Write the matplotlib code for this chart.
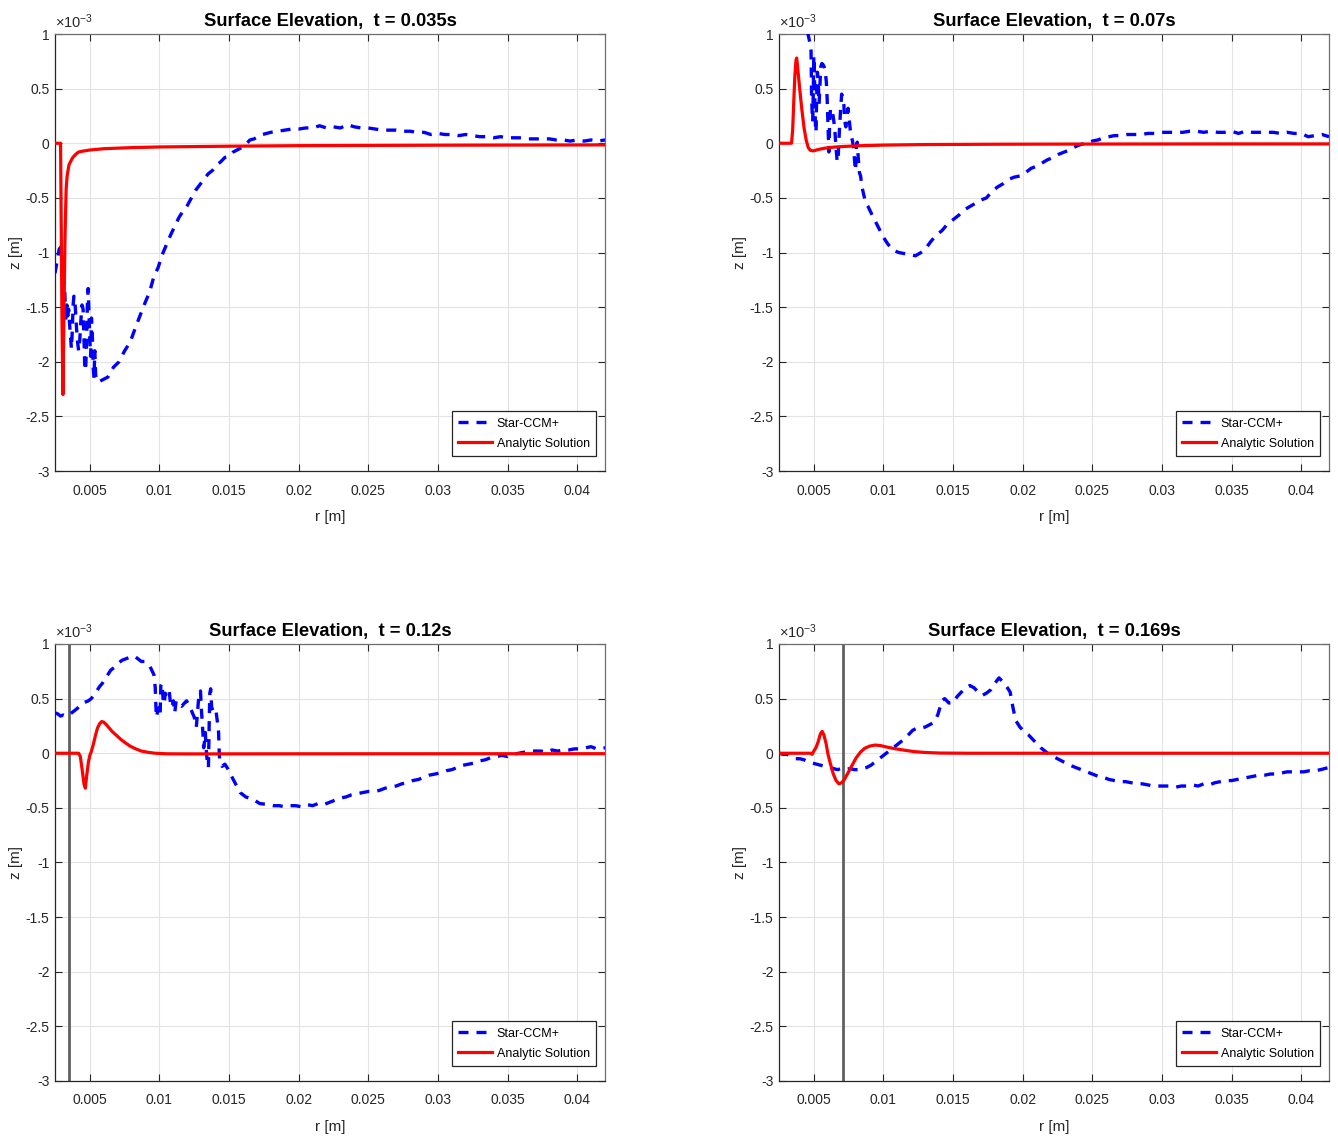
import matplotlib
matplotlib.use("Agg")
import matplotlib.pyplot as plt
from matplotlib.ticker import FuncFormatter

# ---------------- data (r in m, z in units of 1e-3 m) ----------------
titles = ["Surface Elevation,  t = 0.035s", "Surface Elevation,  t = 0.07s",
          "Surface Elevation,  t = 0.12s", "Surface Elevation,  t = 0.169s"]
legend_labels = ["Star-CCM+", "Analytic Solution"]
x_ticks = [0.005, 0.01, 0.015, 0.02, 0.025, 0.03, 0.035, 0.04]
y_ticks = [1, 0.5, 0, -0.5, -1, -1.5, -2, -2.5, -3]

# t = 0.035 s
r_star_1 = [0.00250, 0.00265, 0.00280, 0.00292, 0.00302, 0.00312, 0.00320, 0.00328, 0.00335, 0.00342,
            0.00348, 0.00355, 0.00362, 0.00368, 0.00374, 0.00380, 0.00386, 0.00392, 0.00398, 0.00405,
            0.00412, 0.00420, 0.00428, 0.00436, 0.00444, 0.00452, 0.00458, 0.00464, 0.00470, 0.00476,
            0.00482, 0.00488, 0.00494, 0.00500, 0.00506, 0.00512, 0.00518, 0.00524, 0.00530, 0.00536,
            0.00542, 0.00550, 0.00570, 0.00600, 0.00630, 0.00670, 0.00710, 0.00750, 0.00790, 0.00830,
            0.00860, 0.00900, 0.00930, 0.00960, 0.00990, 0.01020, 0.01050, 0.01080, 0.01110, 0.01140,
            0.01170, 0.01200, 0.01230, 0.01260, 0.01290, 0.01320, 0.01350, 0.01380, 0.01410, 0.01440,
            0.01470, 0.01500, 0.01530, 0.01560, 0.01590, 0.01620, 0.01650, 0.01680, 0.01710, 0.01740,
            0.01770, 0.01800, 0.01850, 0.01900, 0.01950, 0.02000, 0.02050, 0.02100, 0.02150, 0.02200,
            0.02250, 0.02300, 0.02350, 0.02400, 0.02450, 0.02500, 0.02550, 0.02600, 0.02650, 0.02700,
            0.02750, 0.02800, 0.02850, 0.02900, 0.02950, 0.03000, 0.03050, 0.03100, 0.03150, 0.03200,
            0.03250, 0.03300, 0.03350, 0.03400, 0.03450, 0.03500, 0.03550, 0.03600, 0.03650, 0.03700,
            0.03750, 0.03800, 0.03850, 0.03900, 0.03950, 0.04000, 0.04050, 0.04100, 0.04150, 0.04200]
z_star_1 = [-1.19, -1.08, -0.97, -0.95, -1.02, -1.10, -1.35, -1.62, -1.48, -1.58,
            -1.52, -1.66, -1.78, -1.88, -1.72, -1.48, -1.40, -1.42, -1.55, -1.70,
            -1.82, -1.90, -1.80, -1.62, -1.48, -1.52, -1.78, -2.05, -2.08, -1.85,
            -1.50, -1.33, -1.55, -1.80, -1.95, -1.60, -1.75, -2.05, -2.15, -1.90,
            -2.12, -2.18, -2.18, -2.16, -2.14, -2.05, -2.00, -1.90, -1.82, -1.68,
            -1.58, -1.45, -1.36, -1.22, -1.14, -1.02, -0.93, -0.84, -0.76, -0.68,
            -0.62, -0.57, -0.50, -0.43, -0.38, -0.33, -0.28, -0.25, -0.20, -0.17,
            -0.13, -0.12, -0.08, -0.06, -0.04, -0.01, 0.03, 0.04, 0.06, 0.08,
            0.09, 0.10, 0.11, 0.12, 0.13, 0.13, 0.14, 0.14, 0.16, 0.14,
            0.15, 0.14, 0.17, 0.15, 0.14, 0.14, 0.13, 0.12, 0.12, 0.12,
            0.11, 0.11, 0.10, 0.10, 0.08, 0.09, 0.08, 0.08, 0.07, 0.08,
            0.07, 0.06, 0.06, 0.05, 0.06, 0.05, 0.05, 0.05, 0.04, 0.04,
            0.04, 0.04, 0.03, 0.03, 0.02, 0.03, 0.02, 0.03, 0.02, 0.03]
r_ana_1 = [0.00250, 0.00290, 0.00300, 0.00307, 0.00315, 0.00322, 0.00330, 0.00337, 0.00350, 0.00365,
           0.00378, 0.00400, 0.00420, 0.00450, 0.00500, 0.00600, 0.00800, 0.01000, 0.01500, 0.02000,
           0.03000, 0.04200]
z_ana_1 = [0.0, 0.0, -1.60, -2.30, -1.50, -0.85, -0.42, -0.30, -0.20, -0.16,
           -0.13, -0.10, -0.08, -0.072, -0.062, -0.050, -0.040, -0.034, -0.027, -0.022,
           -0.018, -0.015]

# t = 0.07 s
r_star_2 = [0.00455, 0.00470, 0.00480, 0.00484, 0.00488, 0.00492, 0.00496, 0.00500, 0.00504, 0.00508,
            0.00512, 0.00516, 0.00520, 0.00526, 0.00532, 0.00538, 0.00544, 0.00550, 0.00558, 0.00566,
            0.00574, 0.00582, 0.00590, 0.00596, 0.00600, 0.00604, 0.00608, 0.00614, 0.00620, 0.00628,
            0.00636, 0.00644, 0.00652, 0.00660, 0.00668, 0.00676, 0.00684, 0.00692, 0.00700, 0.00708,
            0.00716, 0.00722, 0.00730, 0.00738, 0.00746, 0.00754, 0.00762, 0.00770, 0.00778, 0.00786,
            0.00794, 0.00800, 0.00806, 0.00812, 0.00820, 0.00828, 0.00836, 0.00846, 0.00860, 0.00875,
            0.00890, 0.00920, 0.00960, 0.01000, 0.01030, 0.01070, 0.01110, 0.01150, 0.01190, 0.01230,
            0.01270, 0.01300, 0.01340, 0.01380, 0.01420, 0.01460, 0.01500, 0.01540, 0.01580, 0.01620,
            0.01660, 0.01700, 0.01740, 0.01780, 0.01820, 0.01860, 0.01900, 0.01940, 0.01980, 0.02020,
            0.02060, 0.02100, 0.02140, 0.02180, 0.02220, 0.02260, 0.02300, 0.02340, 0.02380, 0.02420,
            0.02460, 0.02500, 0.02540, 0.02580, 0.02620, 0.02660, 0.02700, 0.02750, 0.02800, 0.02850,
            0.02900, 0.02950, 0.03000, 0.03050, 0.03100, 0.03150, 0.03200, 0.03250, 0.03300, 0.03350,
            0.03400, 0.03450, 0.03500, 0.03550, 0.03600, 0.03650, 0.03700, 0.03750, 0.03800, 0.03850,
            0.03900, 0.03950, 0.04000, 0.04050, 0.04100, 0.04150, 0.04200]
z_star_2 = [1.02, 0.93, 0.85, 0.45, 0.28, 0.20, 0.45, 0.80, 0.68, 0.35,
            0.15, 0.10, 0.40, 0.65, 0.55, 0.36, 0.52, 0.70, 0.73, 0.72,
            0.70, 0.66, 0.56, 0.40, 0.24, 0.05, -0.08, 0.20, 0.32, 0.30,
            0.27, 0.20, 0.10, -0.05, -0.17, -0.10, 0.12, 0.30, 0.45, 0.40,
            0.35, 0.20, 0.15, 0.24, 0.32, 0.22, 0.12, 0.06, 0.02, -0.05,
            -0.18, -0.25, -0.02, 0.01, -0.15, -0.27, -0.30, -0.40, -0.48, -0.55,
            -0.58, -0.66, -0.76, -0.86, -0.92, -0.98, -1.00, -1.01, -1.02, -1.03,
            -1.00, -0.97, -0.90, -0.84, -0.80, -0.74, -0.70, -0.66, -0.61, -0.58,
            -0.55, -0.52, -0.50, -0.44, -0.40, -0.37, -0.33, -0.31, -0.30, -0.27,
            -0.23, -0.21, -0.18, -0.15, -0.13, -0.10, -0.08, -0.06, -0.03, -0.01,
            0.00, 0.02, 0.03, 0.05, 0.06, 0.07, 0.07, 0.08, 0.08, 0.08,
            0.09, 0.09, 0.10, 0.10, 0.10, 0.10, 0.11, 0.11, 0.10, 0.11,
            0.10, 0.10, 0.11, 0.09, 0.11, 0.10, 0.10, 0.10, 0.10, 0.09,
            0.10, 0.09, 0.09, 0.06, 0.07, 0.08, 0.06]
r_ana_2 = [0.00250, 0.00340, 0.00348, 0.00356, 0.00364, 0.00372, 0.00377, 0.00385, 0.00400, 0.00415,
           0.00430, 0.00445, 0.00460, 0.00475, 0.00495, 0.00510, 0.00540, 0.00580, 0.00640, 0.00720,
           0.00820, 0.01000, 0.01300, 0.01800, 0.02500, 0.03500, 0.04200]
z_ana_2 = [0.0, 0.0, 0.12, 0.38, 0.62, 0.76, 0.78, 0.68, 0.48, 0.30,
           0.14, 0.03, -0.04, -0.065, -0.07, -0.065, -0.055, -0.045, -0.036, -0.029,
           -0.023, -0.017, -0.012, -0.009, -0.007, -0.006, -0.006]

# t = 0.12 s
r_star_3 = [0.00250, 0.00270, 0.00290, 0.00310, 0.00330, 0.00350, 0.00370, 0.00390, 0.00410, 0.00430,
            0.00450, 0.00470, 0.00490, 0.00510, 0.00530, 0.00550, 0.00570, 0.00590, 0.00610, 0.00630,
            0.00650, 0.00670, 0.00690, 0.00710, 0.00730, 0.00750, 0.00770, 0.00790, 0.00810, 0.00830,
            0.00850, 0.00870, 0.00894, 0.00930, 0.00960, 0.00970, 0.00974, 0.00978, 0.00990, 0.01000,
            0.01005, 0.01010, 0.01018, 0.01026, 0.01034, 0.01042, 0.01050, 0.01070, 0.01080, 0.01090,
            0.01100, 0.01110, 0.01120, 0.01140, 0.01160, 0.01180, 0.01195, 0.01210, 0.01230, 0.01250,
            0.01265, 0.01280, 0.01295, 0.01300, 0.01305, 0.01312, 0.01318, 0.01325, 0.01330, 0.01335,
            0.01345, 0.01352, 0.01358, 0.01362, 0.01368, 0.01375, 0.01385, 0.01395, 0.01405, 0.01415,
            0.01425, 0.01428, 0.01432, 0.01450, 0.01470, 0.01490, 0.01530, 0.01580, 0.01620, 0.01670,
            0.01720, 0.01780, 0.01820, 0.01860, 0.01900, 0.01940, 0.01980, 0.02020, 0.02060, 0.02100,
            0.02140, 0.02180, 0.02220, 0.02260, 0.02300, 0.02340, 0.02380, 0.02420, 0.02460, 0.02500,
            0.02540, 0.02580, 0.02620, 0.02660, 0.02700, 0.02740, 0.02780, 0.02820, 0.02860, 0.02900,
            0.02940, 0.02980, 0.03020, 0.03060, 0.03100, 0.03140, 0.03180, 0.03220, 0.03260, 0.03300,
            0.03340, 0.03380, 0.03420, 0.03460, 0.03500, 0.03540, 0.03580, 0.03620, 0.03660, 0.03700,
            0.03740, 0.03780, 0.03820, 0.03860, 0.03900, 0.03940, 0.03980, 0.04020, 0.04060, 0.04100,
            0.04140, 0.04200]
z_star_3 = [0.37, 0.36, 0.34, 0.35, 0.34, 0.35, 0.37, 0.39, 0.41, 0.44,
            0.46, 0.47, 0.48, 0.50, 0.53, 0.57, 0.61, 0.64, 0.68, 0.72,
            0.76, 0.78, 0.80, 0.83, 0.85, 0.86, 0.87, 0.88, 0.89, 0.88,
            0.86, 0.84, 0.84, 0.80, 0.72, 0.60, 0.45, 0.33, 0.40, 0.42,
            0.35, 0.62, 0.64, 0.50, 0.45, 0.55, 0.52, 0.57, 0.45, 0.42,
            0.48, 0.37, 0.48, 0.45, 0.43, 0.46, 0.48, 0.44, 0.39, 0.33,
            0.24, 0.48, 0.57, 0.43, 0.33, 0.19, 0.05, 0.12, 0.19, 0.05,
            -0.10, -0.13, 0.32, 0.55, 0.59, 0.42, 0.39, 0.38, 0.40, 0.30,
            0.19, 0.05, -0.05, -0.12, -0.10, -0.14, -0.24, -0.36, -0.40, -0.42,
            -0.46, -0.47, -0.48, -0.48, -0.49, -0.48, -0.48, -0.49, -0.47, -0.48,
            -0.46, -0.47, -0.45, -0.43, -0.41, -0.40, -0.38, -0.37, -0.36, -0.35,
            -0.35, -0.34, -0.32, -0.31, -0.30, -0.28, -0.27, -0.25, -0.24, -0.22,
            -0.20, -0.19, -0.18, -0.16, -0.15, -0.13, -0.11, -0.10, -0.09, -0.07,
            -0.06, -0.04, -0.03, -0.02, -0.03, -0.01, 0.00, 0.01, 0.02, 0.02,
            0.02, 0.01, 0.03, 0.02, 0.03, 0.03, 0.04, 0.04, 0.05, 0.06,
            0.04, 0.05]
r_ana_3 = [0.00250, 0.00420, 0.00432, 0.00445, 0.00458, 0.00468, 0.00478, 0.00490, 0.00500, 0.00512,
           0.00525, 0.00540, 0.00555, 0.00570, 0.00585, 0.00600, 0.00620, 0.00640, 0.00660, 0.00690,
           0.00720, 0.00750, 0.00790, 0.00830, 0.00870, 0.00920, 0.00970, 0.01050, 0.01200, 0.02000,
           0.04200]
z_ana_3 = [0.0, 0.0, -0.03, -0.15, -0.28, -0.32, -0.20, -0.08, -0.02, 0.02,
           0.08, 0.16, 0.23, 0.27, 0.29, 0.285, 0.26, 0.23, 0.20, 0.165,
           0.13, 0.10, 0.065, 0.04, 0.02, 0.008, 0.0, -0.005, -0.006, -0.005,
           -0.004]
r_mark_3 = 0.0035

# t = 0.169 s
r_star_4 = [0.00250, 0.00280, 0.00310, 0.00340, 0.00370, 0.00400, 0.00430, 0.00460, 0.00490, 0.00520,
            0.00550, 0.00580, 0.00610, 0.00640, 0.00670, 0.00700, 0.00730, 0.00760, 0.00790, 0.00820,
            0.00850, 0.00880, 0.00910, 0.00940, 0.00970, 0.01000, 0.01030, 0.01060, 0.01090, 0.01120,
            0.01150, 0.01180, 0.01210, 0.01240, 0.01270, 0.01300, 0.01330, 0.01360, 0.01390, 0.01420,
            0.01440, 0.01470, 0.01500, 0.01530, 0.01560, 0.01590, 0.01620, 0.01650, 0.01680, 0.01710,
            0.01740, 0.01770, 0.01800, 0.01830, 0.01860, 0.01890, 0.01910, 0.01930, 0.01950, 0.01980,
            0.02010, 0.02040, 0.02070, 0.02100, 0.02130, 0.02160, 0.02190, 0.02220, 0.02250, 0.02280,
            0.02310, 0.02340, 0.02380, 0.02420, 0.02460, 0.02500, 0.02540, 0.02580, 0.02620, 0.02660,
            0.02700, 0.02740, 0.02780, 0.02820, 0.02860, 0.02900, 0.02940, 0.02980, 0.03020, 0.03060,
            0.03100, 0.03140, 0.03180, 0.03220, 0.03260, 0.03300, 0.03340, 0.03380, 0.03420, 0.03460,
            0.03500, 0.03540, 0.03580, 0.03620, 0.03660, 0.03700, 0.03740, 0.03780, 0.03820, 0.03860,
            0.03900, 0.03940, 0.03980, 0.04020, 0.04060, 0.04100, 0.04140, 0.04200]
z_star_4 = [0.00, -0.01, -0.01, -0.03, -0.05, -0.05, -0.06, -0.08, -0.09, -0.10,
            -0.11, -0.12, -0.13, -0.14, -0.15, -0.14, -0.15, -0.14, -0.15, -0.15,
            -0.14, -0.13, -0.11, -0.08, -0.05, -0.02, 0.01, 0.04, 0.07, 0.10,
            0.13, 0.17, 0.21, 0.23, 0.23, 0.24, 0.26, 0.28, 0.35, 0.48,
            0.50, 0.46, 0.46, 0.52, 0.56, 0.60, 0.62, 0.60, 0.56, 0.53,
            0.55, 0.58, 0.64, 0.69, 0.65, 0.60, 0.56, 0.42, 0.30, 0.24,
            0.20, 0.17, 0.13, 0.09, 0.05, 0.02, -0.01, -0.03, -0.05, -0.07,
            -0.09, -0.11, -0.13, -0.15, -0.17, -0.19, -0.21, -0.22, -0.24, -0.25,
            -0.26, -0.26, -0.27, -0.28, -0.28, -0.29, -0.30, -0.30, -0.30, -0.30,
            -0.31, -0.30, -0.30, -0.29, -0.30, -0.28, -0.29, -0.27, -0.26, -0.25,
            -0.25, -0.24, -0.23, -0.22, -0.21, -0.20, -0.20, -0.19, -0.19, -0.18,
            -0.17, -0.17, -0.17, -0.17, -0.16, -0.16, -0.15, -0.13]
r_ana_4 = [0.00250, 0.00480, 0.00488, 0.00500, 0.00515, 0.00530, 0.00548, 0.00560, 0.00572, 0.00588,
           0.00602, 0.00620, 0.00640, 0.00660, 0.00680, 0.00700, 0.00720, 0.00745, 0.00775, 0.00805,
           0.00835, 0.00865, 0.00900, 0.00940, 0.00980, 0.01030, 0.01090, 0.01150, 0.01220, 0.01300,
           0.01400, 0.01600, 0.04200]
z_ana_4 = [0.0, 0.0, -0.01, 0.02, 0.05, 0.10, 0.18, 0.20, 0.17, 0.09,
           -0.01, -0.10, -0.19, -0.25, -0.28, -0.27, -0.24, -0.18, -0.11, -0.04,
           0.01, 0.045, 0.065, 0.075, 0.07, 0.055, 0.04, 0.028, 0.015, 0.007,
           0.002, 0.0, 0.0]
r_mark_4 = 0.0071

star_r = [r_star_1, r_star_2, r_star_3, r_star_4]
star_z = [z_star_1, z_star_2, z_star_3, z_star_4]
ana_r = [r_ana_1, r_ana_2, r_ana_3, r_ana_4]
ana_z = [z_ana_1, z_ana_2, z_ana_3, z_ana_4]
marks = [None, None, r_mark_3, r_mark_4]

# ---------------- style ----------------
FAM = ['Liberation Sans', 'DejaVu Sans']
plt.rcParams['font.family'] = FAM
plt.rcParams['axes.unicode_minus'] = False
plt.rcParams['mathtext.fontset'] = 'custom'
plt.rcParams['mathtext.rm'] = 'Liberation Sans'
plt.rcParams['mathtext.it'] = 'Liberation Sans'

TXT = '#262626'
fig = plt.figure(figsize=(13.38, 11.4), dpi=100)

W = 550 / 1338
H = 437 / 1140
positions = [(55 / 1338, 1 - 471 / 1140), (779 / 1338, 1 - 471 / 1140),
             (55 / 1338, 1 - 1081 / 1140), (779 / 1338, 1 - 1081 / 1140)]

fmt = FuncFormatter(lambda v, p: ('%g' % round(v, 6)))

for i in range(4):
    ax = fig.add_axes([positions[i][0], positions[i][1], W, H])
    ax.plot(star_r[i], star_z[i], color='#0000ff', lw=2.4, linestyle=(0, (3.0, 2.4)),
            label=legend_labels[0], zorder=3)
    ax.plot(ana_r[i], ana_z[i], color='#ff0000', lw=2.3, label=legend_labels[1], zorder=4)
    if marks[i] is not None:
        ax.axvline(marks[i], color='#606060', lw=2.0, zorder=2)
    ax.set_xlim(0.0025, 0.042)
    ax.set_ylim(-3, 1)
    ax.set_xticks(x_ticks)
    ax.set_yticks(y_ticks)
    ax.xaxis.set_major_formatter(fmt)
    ax.yaxis.set_major_formatter(fmt)
    ax.grid(True, color='#e3e3e3', lw=0.8, zorder=0)
    ax.set_axisbelow(True)
    ax.tick_params(direction='in', length=5, width=0.8, colors=TXT, labelsize=10,
                   top=True, right=True)
    ax.tick_params(axis='x', pad=9)
    ax.tick_params(axis='y', pad=4)
    for s in ['left', 'bottom']:
        ax.spines[s].set_color(TXT)
        ax.spines[s].set_linewidth(0.9)
    for s in ['top', 'right']:
        ax.spines[s].set_color('#6e6e6e')
        ax.spines[s].set_linewidth(0.9)
    ax.set_title(titles[i], fontsize=13.2, fontweight='bold', color='black', pad=6)
    ax.set_xlabel('r [m]', fontsize=11, color=TXT, labelpad=9)
    ax.set_ylabel('z [m]', fontsize=11, color=TXT, labelpad=2)
    ax.text(0.0, 1.008, '×10$^{-3}$', transform=ax.transAxes, fontsize=10.5,
            color=TXT, ha='left', va='bottom')
    leg = ax.legend(loc='lower right', bbox_to_anchor=(1 - 9 / 550, 15 / 437), borderaxespad=0,
                    fancybox=False, framealpha=1, edgecolor='#262626', fontsize=9,
                    handlelength=2.7, handletextpad=0.4, borderpad=0.5, labelspacing=0.65)
    leg.get_frame().set_linewidth(0.9)

fig.savefig('out.png', dpi=100)
